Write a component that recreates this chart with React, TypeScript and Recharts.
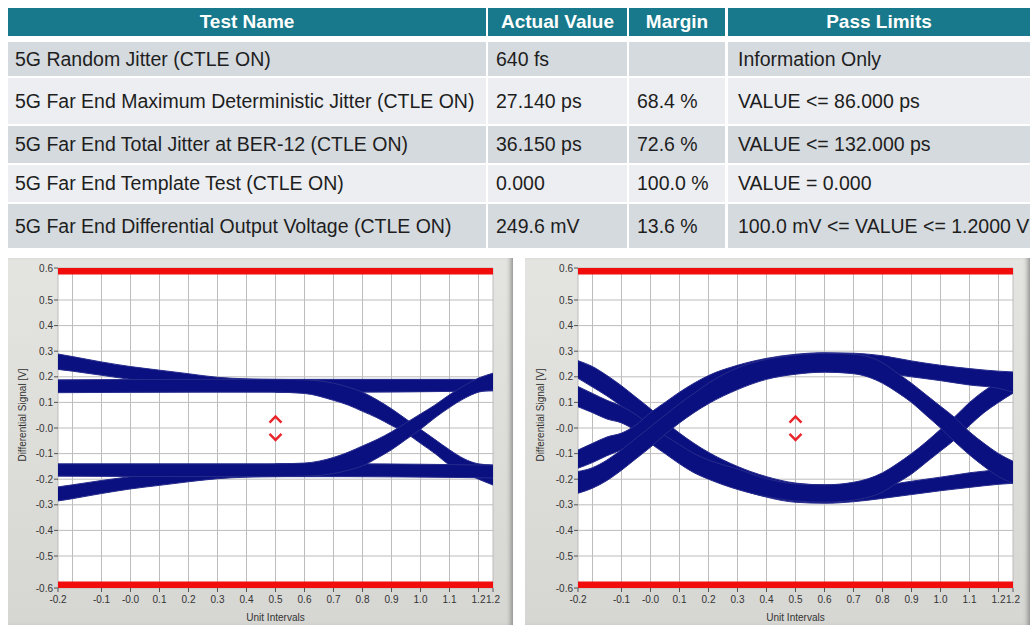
import { ComposedChart, Area, XAxis, YAxis, CartesianGrid, ReferenceArea, Scatter, Label } from "recharts"

// ---- table data ----
const HEADERS = ["Test Name", "Actual Value", "Margin", "Pass Limits"]
const TEST_NAMES = [
  "5G Random Jitter (CTLE ON)",
  "5G Far End Maximum Deterministic Jitter (CTLE ON)",
  "5G Far End Total Jitter at BER-12 (CTLE ON)",
  "5G Far End Template Test (CTLE ON)",
  "5G Far End Differential Output Voltage (CTLE ON)",
]
const ACTUAL_VALUES = ["640 fs", "27.140 ps", "36.150 ps", "0.000", "249.6 mV"]
const MARGINS = ["", "68.4 %", "72.6 %", "100.0 %", "13.6 %"]
const PASS_LIMITS = [
  "Information Only",
  "VALUE <= 86.000 ps",
  "VALUE <= 132.000 ps",
  "VALUE = 0.000",
  "100.0 mV <= VALUE <= 1.2000 V",
]

// ---- axis ticks ----
const X_TICKS = [-0.25, -0.2, -0.1, 0, 0.1, 0.2, 0.3, 0.4, 0.5, 0.6, 0.7, 0.8, 0.9, 1.0, 1.1, 1.2, 1.25]
const X_TICK_LABELS = ["-0.2", "", "-0.1", "-0.0", "0.1", "0.2", "0.3", "0.4", "0.5", "0.6", "0.7", "0.8", "0.9", "1.0", "1.1", "1.2", "1.2"]
const Y_TICKS = [-0.625, -0.5, -0.4, -0.3, -0.2, -0.1, 0, 0.1, 0.2, 0.3, 0.4, 0.5, 0.625]
const Y_TICK_LABELS = ["-0.6", "-0.5", "-0.4", "-0.3", "-0.2", "-0.1", "-0.0", "0.1", "0.2", "0.3", "0.4", "0.5", "0.6"]

// mask limits (red bars) and centre markers
const LIMIT_INNER = 0.6
const LIMIT_OUTER = 0.625
const MARKERS = [
  { x: 0.5, y: 0.033, dir: "up" },
  { x: 0.5, y: -0.035, dir: "down" },
]

// ---- eye traces: [UI, low V, high V] ----
// left eye
const L_HIGH_FROM_ABOVE = [
  [-0.25, 0.229, 0.289], [-0.2, 0.222, 0.279], [-0.1, 0.206, 0.258], [0.0, 0.19, 0.24],
  [0.1, 0.178, 0.226], [0.2, 0.165, 0.212], [0.3, 0.152, 0.198], [0.4, 0.145, 0.192], [0.5, 0.142, 0.19],
]
const L_HIGH_STAY = [[-0.25, 0.138, 0.188], [0.25, 0.14, 0.19], [0.75, 0.14, 0.19], [1.25, 0.145, 0.19]]
const L_HIGH_FALL = [
  [0.5, 0.14, 0.19], [0.6, 0.135, 0.188], [0.7, 0.108, 0.175], [0.75, 0.09, 0.16], [0.8, 0.065, 0.14],
  [0.85, 0.04, 0.11], [0.9, 0.01, 0.075], [0.95, -0.02, 0.035], [1.0, -0.06, -0.005], [1.05, -0.1, -0.045],
  [1.1, -0.145, -0.085], [1.15, -0.175, -0.12], [1.2, -0.2, -0.14], [1.25, -0.223, -0.145],
]
const L_LOW_FROM_BELOW = [
  [-0.25, -0.285, -0.23], [-0.2, -0.276, -0.222], [-0.1, -0.256, -0.205], [0.0, -0.238, -0.19],
  [0.1, -0.224, -0.177], [0.2, -0.21, -0.164], [0.3, -0.198, -0.152], [0.4, -0.192, -0.145], [0.5, -0.19, -0.142],
]
const L_LOW_STAY = [[-0.25, -0.188, -0.14], [0.25, -0.19, -0.14], [0.75, -0.19, -0.14], [1.25, -0.195, -0.145]]
const L_LOW_RISE = [
  [0.5, -0.19, -0.14], [0.6, -0.188, -0.137], [0.7, -0.178, -0.115], [0.75, -0.165, -0.095], [0.8, -0.148, -0.07],
  [0.85, -0.118, -0.045], [0.9, -0.085, -0.015], [0.95, -0.045, 0.02], [1.0, -0.005, 0.055], [1.05, 0.04, 0.09],
  [1.1, 0.08, 0.13], [1.15, 0.115, 0.165], [1.2, 0.14, 0.195], [1.25, 0.148, 0.214],
]

// right eye
const R_FALL_OUTER = [
  [-0.25, 0.194, 0.263], [-0.2, 0.16, 0.24], [-0.15, 0.125, 0.205], [-0.1, 0.085, 0.165], [-0.05, 0.04, 0.12],
  [0.0, -0.005, 0.075], [0.05, -0.05, 0.025], [0.1, -0.095, -0.02], [0.15, -0.14, -0.06], [0.2, -0.175, -0.095],
  [0.3, -0.235, -0.15], [0.4, -0.27, -0.19], [0.5, -0.29, -0.215], [0.6, -0.294, -0.222], [0.7, -0.288, -0.222],
  [0.8, -0.275, -0.222], [0.9, -0.26, -0.208], [1.0, -0.245, -0.192], [1.1, -0.232, -0.175], [1.2, -0.22, -0.16],
  [1.25, -0.216, -0.145],
]
const R_FALL_INNER = [
  [-0.25, 0.083, 0.162], [-0.2, 0.06, 0.135], [-0.15, 0.035, 0.108], [-0.1, 0.02, 0.085], [-0.05, -0.012, 0.052],
  [0.0, -0.06, 0.01], [0.05, -0.1, -0.03], [0.1, -0.14, -0.065], [0.15, -0.175, -0.1], [0.2, -0.2, -0.125],
  [0.3, -0.24, -0.16], [0.4, -0.268, -0.198], [0.5, -0.285, -0.218], [0.6, -0.29, -0.222], [0.7, -0.282, -0.212],
  [0.8, -0.25, -0.175], [0.85, -0.215, -0.14], [0.9, -0.18, -0.1], [0.95, -0.135, -0.055], [1.0, -0.09, -0.005],
  [1.05, -0.045, 0.045], [1.1, 0.01, 0.1], [1.15, 0.06, 0.145], [1.2, 0.1, 0.18], [1.25, 0.136, 0.21],
]
const R_RISE_INNER = [
  [-0.25, -0.157, -0.086], [-0.2, -0.135, -0.06], [-0.15, -0.108, -0.035], [-0.1, -0.085, -0.02], [-0.05, -0.052, 0.012],
  [0.0, -0.01, 0.06], [0.05, 0.03, 0.1], [0.1, 0.065, 0.14], [0.15, 0.1, 0.175], [0.2, 0.125, 0.205],
  [0.3, 0.165, 0.245], [0.4, 0.195, 0.272], [0.5, 0.212, 0.288], [0.6, 0.22, 0.294], [0.7, 0.218, 0.292],
  [0.8, 0.215, 0.282], [0.9, 0.2, 0.262], [1.0, 0.185, 0.245], [1.1, 0.168, 0.232], [1.2, 0.155, 0.222],
  [1.25, 0.14, 0.219],
]
const R_RISE_OUTER = [
  [-0.25, -0.255, -0.17], [-0.2, -0.235, -0.155], [-0.15, -0.205, -0.125], [-0.1, -0.165, -0.085], [-0.05, -0.12, -0.04],
  [0.0, -0.075, 0.005], [0.05, -0.025, 0.05], [0.1, 0.02, 0.095], [0.15, 0.06, 0.135], [0.2, 0.095, 0.175],
  [0.3, 0.15, 0.235], [0.4, 0.19, 0.268], [0.5, 0.21, 0.285], [0.6, 0.218, 0.292], [0.7, 0.212, 0.288],
  [0.8, 0.175, 0.255], [0.85, 0.14, 0.215], [0.9, 0.1, 0.175], [0.95, 0.05, 0.13], [1.0, 0.0, 0.085],
  [1.05, -0.055, 0.04], [1.1, -0.105, -0.015], [1.15, -0.15, -0.06], [1.2, -0.19, -0.1], [1.25, -0.216, -0.13],
]

const LEFT_TRACES = [L_HIGH_FROM_ABOVE, L_HIGH_STAY, L_HIGH_FALL, L_LOW_FROM_BELOW, L_LOW_STAY, L_LOW_RISE]
const RIGHT_TRACES = [R_FALL_OUTER, R_FALL_INNER, R_RISE_INNER, R_RISE_OUTER]

// ---- styling / layout ----
const NAVY = "#0b1080"
const NAVY_EDGE = "#262b8c"
const RED = "#f20d0d"
const FONT = "'Liberation Sans', Arial, sans-serif"

const COL_X = [8, 488, 629, 728]
const COL_W = [478, 139, 96, 302]
const ROW_Y = [42, 78, 126, 165, 204]
const ROW_H = [34, 46, 37, 37, 44]
const ROW_BG = ["#d5dade", "#eceef1", "#d5dade", "#eceef1", "#d5dade"]

function findLabel(ticks: number[], labels: string[], v: number) {
  const i = ticks.findIndex((t) => Math.abs(t - v) < 1e-9)
  return i >= 0 ? labels[i] : ""
}

function XTick(props: any) {
  const { x, y, payload } = props
  const label = findLabel(X_TICKS, X_TICK_LABELS, payload.value)
  if (!label) return <g />
  return (
    <g>
      <line x1={x} x2={x} y1={y} y2={y + 4} stroke="#555" />
      <text x={x} y={y + 15} textAnchor="middle" fontSize={10} fill="#333" fontFamily={FONT}>
        {label}
      </text>
    </g>
  )
}

function YTick(props: any) {
  const { x, y, payload } = props
  const label = findLabel(Y_TICKS, Y_TICK_LABELS, payload.value)
  return (
    <g>
      <line x1={x - 4} x2={x} y1={y} y2={y} stroke="#555" />
      <text x={x - 5} y={y + 3.5} textAnchor="end" fontSize={10} fill="#333" fontFamily={FONT}>
        {label}
      </text>
    </g>
  )
}

function Chevron(props: any) {
  const { cx, cy, payload } = props
  const d = payload.dir === "up"
    ? `M${cx - 6},${cy + 3} L${cx},${cy - 3} L${cx + 6},${cy + 3}`
    : `M${cx - 6},${cy - 3} L${cx},${cy + 3} L${cx + 6},${cy - 3}`
  return <path d={d} stroke="#e8262b" strokeWidth={2.4} fill="none" />
}

function EyePanel({ left, plotLeft, plotRight, titleX, traces }: any) {
  const yTitle = (p: any) => {
    const vb = p.viewBox
    const cx = vb.x + titleX
    const cy = vb.y + vb.height / 2 - 13
    return (
      <text x={cx} y={cy} transform={`rotate(-90 ${cx} ${cy})`} textAnchor="middle" dominantBaseline="central" fontSize={10} fill="#333" fontFamily={FONT}>
        Differential Signal  [V]
      </text>
    )
  }
  return (
    <div
      style={{
        position: "absolute",
        left,
        top: 258,
        width: 505,
        height: 367,
        background: "linear-gradient(#e4e4e0, #d6d6d2)",
        boxShadow: "inset -5px 0 5px -3px #8a8a8a",
      }}
    >
      <ComposedChart width={505} height={367} margin={{ top: 10, right: plotRight, bottom: 0, left: 0 }}>
        <CartesianGrid fill="#ffffff" stroke="#bdbdbd" />
        <XAxis
          dataKey="x"
          type="number"
          domain={[-0.25, 1.25]}
          ticks={X_TICKS}
          interval={0}
          allowDataOverflow
          height={37}
          tickSize={0}
          tickMargin={0}
          tickLine={false}
          axisLine={false}
          tick={<XTick />}
        >
          <Label value="Unit Intervals" position="insideBottom" offset={4} fontSize={10} fill="#333" fontFamily={FONT} />
        </XAxis>
        <YAxis
          type="number"
          domain={[-0.625, 0.625]}
          ticks={Y_TICKS}
          interval={0}
          allowDataOverflow
          width={plotLeft}
          tickSize={0}
          tickMargin={0}
          tickLine={false}
          axisLine={false}
          tick={<YTick />}
        >
          <Label content={yTitle} />
        </YAxis>
        {traces.map((tr: number[][], i: number) => (
          <Area
            key={i}
            data={tr.map(([x, lo, hi]) => ({ x, band: [lo, hi] }))}
            dataKey="band"
            type="monotone"
            fill={NAVY}
            fillOpacity={1}
            stroke={NAVY_EDGE}
            strokeWidth={1}
            dot={false}
            activeDot={false}
            isAnimationActive={false}
          />
        ))}
        <ReferenceArea x1={-0.25} x2={1.25} y1={LIMIT_INNER} y2={LIMIT_OUTER} fill={RED} fillOpacity={1} stroke="none" />
        <ReferenceArea x1={-0.25} x2={1.25} y1={-LIMIT_OUTER} y2={-LIMIT_INNER} fill={RED} fillOpacity={1} stroke="none" />
        <Scatter data={MARKERS} dataKey="y" shape={<Chevron />} isAnimationActive={false} />
      </ComposedChart>
    </div>
  )
}

function ResultsTable() {
  const rows = TEST_NAMES.map((name, i) => [name, ACTUAL_VALUES[i], MARGINS[i], PASS_LIMITS[i]])
  return (
    <>
      {HEADERS.map((h, c) => (
        <div
          key={h}
          style={{
            position: "absolute",
            left: COL_X[c],
            top: 8,
            width: COL_W[c],
            height: 28,
            background: "#17798b",
            color: "#fff",
            fontWeight: "bold",
            fontSize: 19,
            display: "flex",
            alignItems: "center",
            justifyContent: "center",
          }}
        >
          {h}
        </div>
      ))}
      {rows.map((cells, r) =>
        cells.map((txt, c) => (
          <div
            key={r + "-" + c}
            style={{
              position: "absolute",
              left: COL_X[c],
              top: ROW_Y[r],
              width: COL_W[c],
              height: ROW_H[r],
              background: ROW_BG[r],
              color: "#1e1e1e",
              fontSize: 19.5,
              display: "flex",
              alignItems: "center",
              paddingLeft: c === 3 ? 10 : c === 0 ? 7 : 8,
              boxSizing: "border-box",
              whiteSpace: "nowrap",
            }}
          >
            {txt}
          </div>
        ))
      )}
    </>
  )
}

export default function App() {
  return (
    <div
      style={{
        position: "fixed",
        left: 0,
        top: 0,
        width: 1030,
        height: 625,
        overflow: "hidden",
        background: "#ffffff",
        fontFamily: FONT,
      }}
    >
      <ResultsTable />
      <EyePanel left={8} plotLeft={50} plotRight={20} titleX={14} traces={LEFT_TRACES} />
      <EyePanel left={525} plotLeft={53} plotRight={17} titleX={15} traces={RIGHT_TRACES} />
    </div>
  )
}
